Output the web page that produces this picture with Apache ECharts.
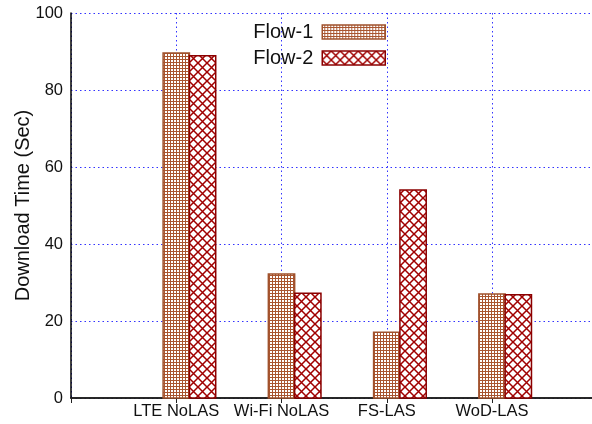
<!DOCTYPE html>
<html><head><meta charset="utf-8">
<script src="https://cdn.jsdelivr.net/npm/echarts@6/dist/echarts.min.js"></script>
<style>html,body{margin:0;padding:0;background:#fff}#c{width:592px;height:424px}</style>
</head><body><div id="c"></div>
<script>
const categories = ['LTE NoLAS', 'Wi-Fi NoLAS', 'FS-LAS', 'WoD-LAS'];
const flow1 = [89.6, 32.2, 17.1, 27.0];
const flow2 = [88.9, 27.2, 54.0, 26.8];
const yTicks = [0, 20, 40, 60, 80, 100];
const seriesNames = ['Flow-1', 'Flow-2'];

function makeCheck() {
  const c = document.createElement('canvas'); c.width = 3; c.height = 3;
  const g = c.getContext('2d');
  g.fillStyle = '#a9552f'; g.fillRect(0, 0, 3, 3);
  g.fillStyle = '#ffffff'; g.fillRect(0, 0, 2, 2);
  return c;
}
function makeCross() {
  const n = 9;
  const c = document.createElement('canvas'); c.width = n; c.height = n;
  const g = c.getContext('2d');
  g.fillStyle = '#ffffff'; g.fillRect(0, 0, n, n);
  g.strokeStyle = '#a00000'; g.lineWidth = 1.5;
  g.beginPath();
  g.moveTo(0, 0); g.lineTo(n, n);
  g.moveTo(n, 0); g.lineTo(0, n);
  g.stroke();
  return c;
}
const pat1 = { image: makeCheck(), repeat: 'repeat' };
const pat2 = { image: makeCross(), repeat: 'repeat' };
const stroke1 = '#a0522d', stroke2 = '#8b0000';

function mkSeries(name, vals, shift, fill, stroke) {
  return {
    type: 'custom', name: name,
    data: vals.map((v, i) => [i + 1, v]),
    encode: { x: 0, y: 1 },
    renderItem: function (params, api) {
      const x = api.value(0), y = api.value(1);
      const top = api.coord([x, y]);
      const base = api.coord([x, 0]);
      const w = api.size([0.25, 0])[0];
      return {
        type: 'rect',
        shape: { x: top[0] - w / 2 + shift * w, y: top[1], width: w, height: base[1] - top[1] },
        style: { fill: fill, stroke: stroke, lineWidth: 1.5 }
      };
    },
    z: 3
  };
}

const chart = echarts.init(document.getElementById('c'), null, { renderer: 'canvas' });
const font = 'Liberation Sans, Arial, sans-serif';
chart.setOption({
  animation: false,
  backgroundColor: '#fff',
  textStyle: { fontFamily: font },
  grid: { left: 71, top: 13, bottom: 26, right: 0, outerBoundsMode: 'none', containLabel: false },
  legend: {
    orient: 'vertical', right: 201, top: 17, align: 'right',
    itemWidth: 63, itemHeight: 14, itemGap: 6,
    icon: 'rect',
    textStyle: { fontSize: 20, color: '#111', fontFamily: font, padding: [0, 4, 0, 0] },
    data: [
      { name: seriesNames[0], itemStyle: { color: pat1, borderColor: stroke1, borderWidth: 1.5 } },
      { name: seriesNames[1], itemStyle: { color: pat2, borderColor: stroke2, borderWidth: 1.5 } }
    ]
  },
  xAxis: [{
    type: 'value', min: 0, max: 4.95, interval: 1,
    axisLine: { show: true, onZero: false, lineStyle: { color: '#000', width: 1.5 } },
    axisTick: { show: false },
    axisLabel: {
      fontSize: 16.5, color: '#111', margin: 5, fontFamily: font,
      showMinLabel: false, showMaxLabel: false,
      formatter: v => (v >= 1 && v <= categories.length && Number.isInteger(v)) ? categories[v - 1] : ''
    },
    splitLine: { show: true, lineStyle: { color: '#3333ff', type: [1.5, 3], width: 1 } }
  }, {
    type: 'value', min: 0, max: 4.95, interval: 1, position: 'top',
    axisLine: { show: true, lineStyle: { color: '#222', width: 1.5 } },
    axisTick: { show: true, inside: true, length: 5, lineStyle: { color: '#222' } },
    axisLabel: { show: false }, splitLine: { show: false }
  }],
  yAxis: {
    type: 'value', min: yTicks[0], max: yTicks[yTicks.length - 1], interval: 20,
    name: 'Download Time (Sec)', nameLocation: 'middle', nameGap: 38, nameMoveOverlap: false,
    nameTextStyle: { fontSize: 20, color: '#111', fontFamily: font },
    axisLine: { show: true, lineStyle: { color: '#000', width: 1.5 } },
    axisTick: { show: false },
    axisLabel: { fontSize: 16.5, color: '#111', margin: 8, fontFamily: font },
    splitLine: { show: true, lineStyle: { color: '#3333ff', type: [1.5, 3], width: 1 } }
  },
  series: [
    mkSeries(seriesNames[0], flow1, 0, pat1, stroke1),
    mkSeries(seriesNames[1], flow2, 1, pat2, stroke2)
  ]
});
</script></body></html>
